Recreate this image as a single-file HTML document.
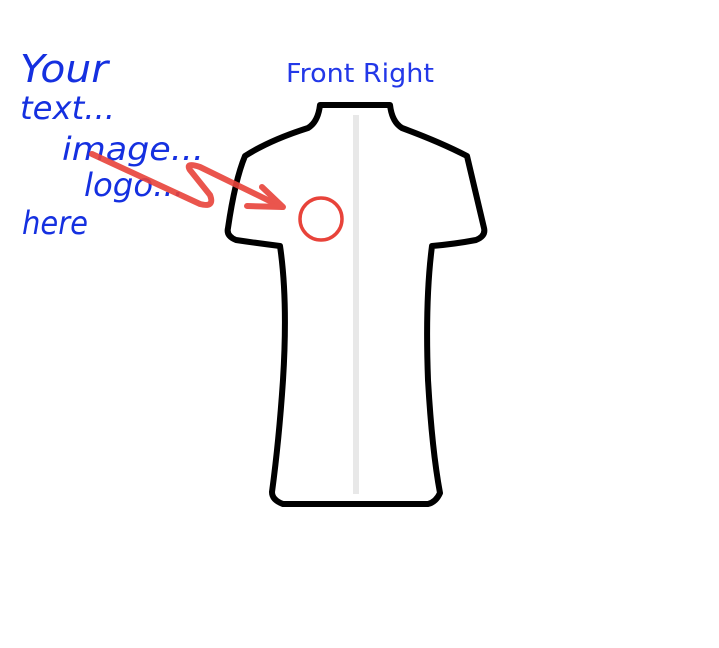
<!DOCTYPE html>
<html><head><style>html,body{margin:0;padding:0;background:#fff;}</style></head>
<body>
<svg width="719" height="643" viewBox="0 0 719 643" xmlns="http://www.w3.org/2000/svg">
<rect width="719" height="643" fill="#fff"/>
<text x="286" y="82" font-family="DejaVu Sans, sans-serif" font-size="26" fill="#2338e8" textLength="148" lengthAdjust="spacingAndGlyphs">Front Right</text>
<g font-family="DejaVu Sans, sans-serif" font-style="italic" fill="#1530e0" lengthAdjust="spacingAndGlyphs">
<text x="20" y="82" font-size="38" textLength="88" lengthAdjust="spacingAndGlyphs">Your</text>
<text x="20" y="119" font-size="32" textLength="95" lengthAdjust="spacingAndGlyphs">text...</text>
<text x="62" y="160" font-size="32" textLength="142" lengthAdjust="spacingAndGlyphs">image...</text>
<text x="84" y="196" font-size="32" textLength="100" lengthAdjust="spacingAndGlyphs">logo...</text>
<text x="22" y="234" font-size="32" textLength="66" lengthAdjust="spacingAndGlyphs">here</text>
</g>
<rect x="353" y="115" width="6" height="379" fill="#e8e8e8"/>
<path d="M320,105 L390,105 Q392,122 402,128 Q440,142 467,156 L484,228 Q486,236 476,240 Q455,244 432,246 Q425,300 428,380 Q432,450 440,493 Q436,502 428,504 L283,504 Q272,500 272,492 Q279,440 283,380 Q288,300 280,246 Q256,243 236,240 Q226,236 228,228 Q235,180 245,156 Q270,140 308,128 Q318,122 320,105 Z" fill="none" stroke="#000" stroke-width="6" stroke-linejoin="round"/>
<circle cx="321" cy="219" r="21" fill="none" stroke="#e8433a" stroke-width="3.5"/>
<g fill="none" stroke="#e8433a" stroke-width="6" stroke-linecap="round" stroke-linejoin="round" opacity="0.9">
<path d="M92,154 L200,204 Q215,208 210,195 L190,170 Q185,162 200,167 L282,207"/>
<path d="M262,187 L283,207 L247,206"/>
</g>
</svg>
</body></html>
